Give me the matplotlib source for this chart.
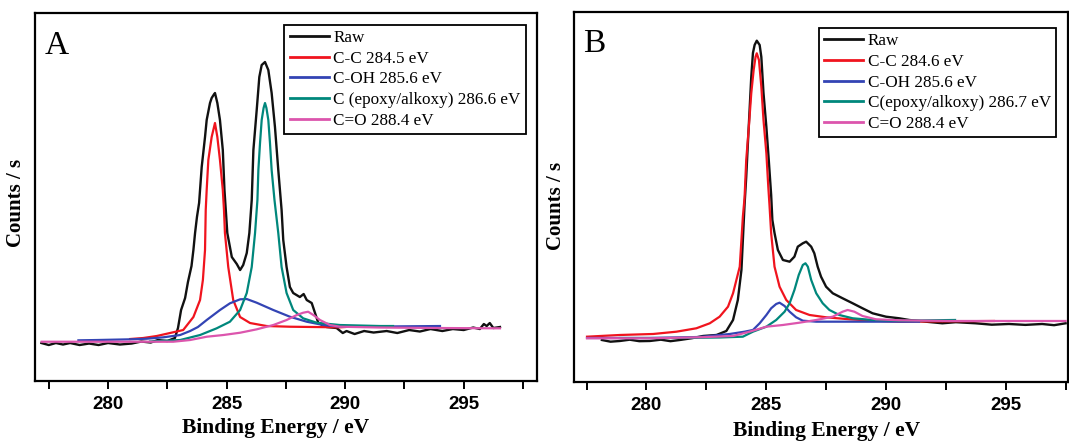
import matplotlib
matplotlib.use("Agg")
import matplotlib.pyplot as plt
from matplotlib.ticker import MultipleLocator

# C1s spectra, values (counts in arbitrary units)

# ---- panel A ----
a_raw_e = [277.19, 277.5, 277.8, 278.1, 278.4, 278.8, 279.2, 279.6, 280.0, 280.5, 281.0, 281.4,
           281.8, 282.1, 282.5, 282.82, 282.95, 283.08, 283.25, 283.37, 283.52, 283.60, 283.67,
           283.75, 283.84, 283.95, 284.09, 284.16, 284.30, 284.37, 284.45, 284.51, 284.61, 284.72,
           284.84, 284.91, 285.03, 285.22, 285.43, 285.57, 285.70, 285.85, 285.96, 286.06, 286.13,
           286.27, 286.38, 286.48, 286.62, 286.76, 286.90, 287.04, 287.18, 287.32, 287.39, 287.53,
           287.67, 287.81, 287.95, 288.09, 288.25, 288.38, 288.59, 288.73, 288.87, 289.22, 289.64,
           289.9, 290.06, 290.4, 290.8, 291.2, 291.75, 292.2, 292.7, 293.15, 293.6, 294.1, 294.54,
           295.0, 295.4, 295.68, 295.85, 295.97, 296.1, 296.25, 296.53]
a_raw_y = [38, 36, 38, 36.5, 38, 36, 37.5, 36, 38, 36.5, 37.5, 39.5,
           38.5, 41, 40, 43, 53, 71, 83, 99, 115, 131, 148,
           164, 178, 214, 244, 261, 278, 283, 286, 288, 278, 261,
           231, 191, 148, 124, 117, 111, 116, 128, 148, 181, 231,
           271, 304, 316, 319, 311, 288, 254, 211, 171, 141, 114,
           94, 88, 86, 84, 87, 81, 78, 68, 58, 54, 53,
           48, 50, 47, 50, 48.5, 50, 48, 51, 49.5, 52, 50, 52,
           51, 53.5, 52, 57, 55, 58, 53, 54]

a_cc_e = [280.93, 281.48, 282.05, 282.61, 283.17, 283.60, 283.88, 284.00, 284.09, 284.12, 284.16,
          284.23, 284.37, 284.51, 284.61, 284.72, 284.84, 284.89, 284.93, 285.07, 285.28, 285.57,
          285.99, 286.69, 287.67, 289.78, 289.99]
a_cc_y = [42, 43, 45, 48, 51, 64, 81, 101, 131, 171, 191,
          221, 244, 258, 244, 221, 191, 171, 148, 114, 81, 64,
          58, 55, 54.3, 53.7, 54]

a_coh_e = [278.75, 279.52, 280.93, 281.63, 282.33, 283.04, 283.46, 283.79, 284.16, 284.72, 285.14,
           285.57, 285.85, 286.27, 286.97, 287.67, 288.38, 289.08, 289.78, 291.47, 294.0]
a_coh_y = [40.7, 41, 41.7, 42.3, 43.7, 46, 50, 54, 61, 71, 77.7,
           81.7, 82, 78.3, 71, 64.3, 59.3, 56, 54.3, 54.5, 55]

a_epo_e = [281.77, 282.19, 283.04, 283.88, 284.58, 285.14, 285.57, 285.85, 286.06, 286.20, 286.30,
           286.34, 286.41, 286.48, 286.56, 286.62, 286.68, 286.76, 286.83, 286.90, 287.02, 287.18,
           287.32, 287.53, 287.81, 288.23, 288.80, 289.78, 291.47, 292.02]
a_epo_y = [39.5, 40, 41, 46, 52.7, 59.3, 71, 88, 114, 148, 181,
           211, 238, 261, 273, 278, 273, 261, 238, 211, 181, 148,
           114, 88, 71, 62.7, 58.3, 56, 55, 55]

a_co_e = [277.20, 279.66, 281.35, 282.75, 283.46, 284.16, 284.86, 285.57, 286.27, 286.97, 287.53,
          287.96, 288.23, 288.44, 288.66, 288.94, 289.36, 289.78, 291.47, 294.0, 296.53]
a_co_y = [39.3, 39.3, 39.3, 39.3, 41, 44.3, 46, 48.3, 51.7, 56, 61,
          66, 68.3, 69.3, 66, 61, 56, 54.3, 53.5, 53, 52.7]

a_labels = ["Raw", "C-C 284.5 eV", "C-OH 285.6 eV", "C (epoxy/alkoxy) 286.6 eV", "C=O 288.4 eV"]

# ---- panel B ----
b_raw_e = [278.14, 278.5, 278.89, 279.3, 279.7, 280.14, 280.6, 281.0, 281.39, 281.9, 282.36,
           282.92, 283.33, 283.61, 283.81, 283.96, 284.02, 284.09, 284.16, 284.23, 284.30, 284.37,
           284.44, 284.51, 284.60, 284.72, 284.79, 284.88, 285.00, 285.10, 285.20, 285.25, 285.34,
           285.48, 285.69, 285.97, 286.17, 286.31, 286.52, 286.66, 286.87, 287.00, 287.14, 287.28,
           287.49, 287.77, 288.18, 288.60, 289.01, 289.43, 289.99, 290.54, 290.96, 291.65, 292.34,
           292.9, 293.73, 294.4, 295.12, 295.8, 296.50, 297.0, 297.48]
b_raw_y = [41.7, 40, 40.7, 42, 40.5, 40.7, 42, 40.5, 41.7, 43.5, 45.7,
           46.7, 50.7, 61.7, 81.7, 111.7, 141.7, 176.7, 204.7, 238.7, 271.7, 304.7,
           328.7, 336.7, 341, 336.7, 324.7, 288.7, 254.7, 221.7, 186.7, 161.7, 148.7,
           131.7, 121.7, 120, 125, 135, 138.4, 140, 135, 128.4, 115, 105,
           95, 88.4, 83.4, 78.4, 73.4, 68.4, 65, 63.4, 61.7, 60, 58.4,
           59.5, 58.4, 57, 57.7, 56.8, 57.7, 56.5, 58.4]

b_cc_e = [277.52, 278.89, 280.28, 281.25, 282.08, 282.64, 283.05, 283.40, 283.61, 283.75, 283.89,
          283.96, 284.02, 284.09, 284.16, 284.27, 284.37, 284.47, 284.55, 284.60, 284.69, 284.79,
          284.88, 285.00, 285.08, 285.13, 285.20, 285.34, 285.55, 285.83, 286.24, 286.80, 287.49,
          288.46, 289.43, 290.54, 294.49]
b_cc_y = [45, 46.7, 47.7, 50, 53.4, 58.4, 65, 75, 88.4, 101.7, 115,
          141.7, 165, 183.7, 221.7, 255, 288.4, 311.7, 325, 328.4, 321.7, 295,
          261.7, 228.4, 195, 176.7, 148.4, 115, 95, 81.7, 71.7, 66.7, 64.4,
          62.4, 61, 60, 60.7]

b_coh_e = [277.52, 280.14, 282.22, 283.47, 284.09, 284.44, 284.72, 285.00, 285.20, 285.41, 285.55,
           285.76, 285.97, 286.24, 286.52, 287.08, 288.46, 291.37]
b_coh_y = [43.7, 43.7, 44.7, 47.7, 50, 51.7, 58.4, 66.7, 73.4, 77.7, 79,
           75.7, 70, 64.4, 61, 60, 60, 60]

b_epo_e = [278.89, 281.39, 283.05, 284.02, 284.44, 285.00, 285.41, 285.76, 285.97, 286.17, 286.35,
           286.52, 286.63, 286.73, 286.87, 287.08, 287.35, 287.63, 288.04, 288.60, 289.43, 290.54,
           292.87]
b_epo_y = [43.7, 43.7, 44.2, 45, 50, 55, 61.7, 70, 78.4, 91.7, 106.7,
           116.7, 118.4, 115, 101.7, 88.4, 78.4, 71.7, 66.7, 63.4, 61.7, 61,
           61.7]

b_co_e = [277.52, 280.14, 282.22, 283.61, 284.30, 285.00, 285.69, 286.38, 287.08, 287.77, 288.18,
          288.39, 288.67, 289.01, 289.57, 290.54, 292.62, 294.70, 297.48]
b_co_y = [43.4, 43.4, 44.4, 45.7, 50, 55, 56.7, 59, 61.7, 65, 70,
          71.7, 70, 65.7, 62.4, 61.4, 60.7, 60.7, 60.7]

b_labels = ["Raw", "C-C 284.6 eV", "C-OH 285.6 eV", "C(epoxy/alkoxy) 286.7 eV", "C=O 288.4 eV"]

colors = ["#111111", "#f0141e", "#3344b4", "#00877c", "#dc55ad"]
serif = "Liberation Serif"
sans = "Liberation Sans"


def draw_panel(ax, curves, labels, letter, xlim, ylim, leg_xy, xlab_xy, ylab_xy):
    lines = []
    # raw data sits under the fitted components like the original
    for i, (e, y) in enumerate(curves):
        lw = 1.7 if i == 0 else 1.6
        ln, = ax.plot(e, y, color=colors[i], lw=lw, zorder=2 if i == 0 else 3)
        lines.append(ln)
    ax.set_xlim(*xlim)
    ax.set_ylim(*ylim)
    ax.set_yticks([])
    ax.xaxis.set_major_locator(MultipleLocator(5))
    ax.xaxis.set_minor_locator(MultipleLocator(2.5))
    ax.tick_params(axis="x", which="both", direction="out", length=6, width=1.4,
                   top=False, pad=5)
    for lab in ax.get_xticklabels():
        lab.set_fontfamily(sans)
        lab.set_fontweight("bold")
        lab.set_fontsize(13.5)
    for sp in ax.spines.values():
        sp.set_linewidth(1.6)
    ax.set_xlabel("Binding Energy / eV", family=serif, weight="bold", fontsize=15.5)
    ax.xaxis.set_label_coords(*xlab_xy)
    ax.set_ylabel("Counts / s", family=serif, weight="bold", fontsize=15)
    ax.yaxis.set_label_coords(*ylab_xy)
    ax.text(0.018, 0.89, letter, transform=ax.transAxes, family=serif, fontsize=24,
            va="baseline", ha="left")
    leg = ax.legend(lines, labels, loc="upper left", bbox_to_anchor=leg_xy,
                    borderaxespad=0, prop={"family": serif, "size": 12.3},
                    fancybox=False, framealpha=1, edgecolor="black",
                    handlelength=2.3, handletextpad=0.25, labelspacing=0.27,
                    borderpad=0.3)
    leg.get_frame().set_linewidth(1.3)
    for ln in leg.get_lines():
        ln.set_linewidth(2.0)


fig = plt.figure(figsize=(10.69, 4.41), dpi=100)
ax_a = fig.add_axes([0.0332, 0.136, 0.4691, 0.8338])
ax_b = fig.add_axes([0.5368, 0.1345, 0.4627, 0.839])

draw_panel(ax_a,
           [(a_raw_e, a_raw_y), (a_cc_e, a_cc_y), (a_coh_e, a_coh_y),
            (a_epo_e, a_epo_y), (a_co_e, a_co_y)],
           a_labels, "A", (276.94, 298.09), (0, 367.7),
           (0.4965, 0.968), (0.478, -0.10), (-0.019, 0.484))

draw_panel(ax_b,
           [(b_raw_e, b_raw_y), (b_cc_e, b_cc_y), (b_coh_e, b_coh_y),
            (b_epo_e, b_epo_y), (b_co_e, b_co_y)],
           b_labels, "B", (276.97, 297.6), (0, 370),
           (0.4957, 0.955), (0.51, -0.105), (-0.016, 0.475))

fig.savefig("out.png", dpi=100)
